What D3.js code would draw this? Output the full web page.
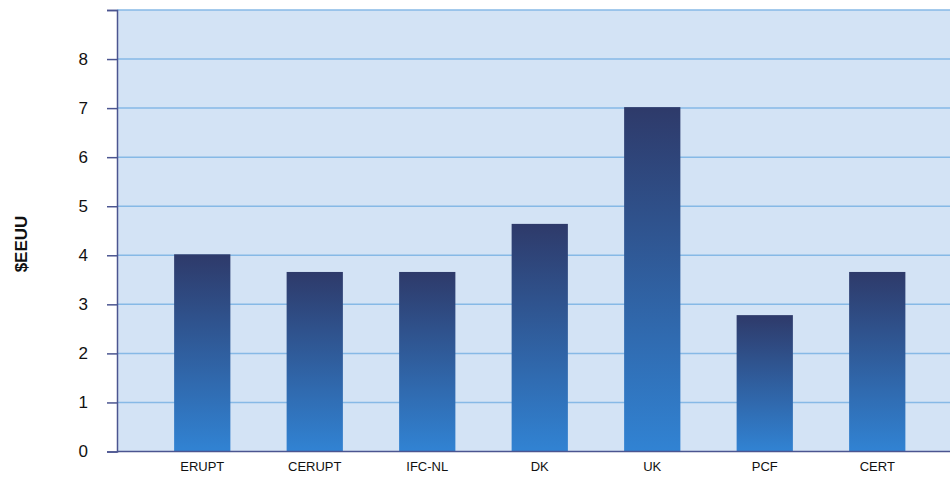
<!DOCTYPE html>
<html lang="es">
<head>
<meta charset="utf-8" />
<script src="https://d3js.org/d3.v7.min.js"></script>
<style>
  body { margin: 0; background: #fff; }
  svg text { font-family: "Liberation Sans", Arial, Helvetica, sans-serif; }
</style>
</head>
<body>
<div id="chart"></div>
<script>
const categories = ['ERUPT', 'CERUPT', 'IFC-NL', 'DK', 'UK', 'PCF', 'CERT'];
const values = [4.02, 3.66, 3.66, 4.64, 7.02, 2.78, 3.66];
const yTicks = [0, 1, 2, 3, 4, 5, 6, 7, 8];
const yLabel = '$EEUU';

const width = 950;
const height = 477;
const plotLeft = 117;
const plotTop = 10;
const plotBottom = 451.5;

const svg = d3.select('#chart')
  .append('svg')
  .attr('width', width)
  .attr('height', height);

const grad = svg.append('defs')
  .append('linearGradient')
  .attr('id', 'barGrad')
  .attr('x1', 0).attr('y1', 0)
  .attr('x2', 0).attr('y2', 1);
grad.append('stop').attr('offset', '0%').attr('stop-color', '#2e3a6a');
grad.append('stop').attr('offset', '100%').attr('stop-color', '#3183d3');

const x = d3.scaleBand()
  .domain(categories)
  .range([146, 933.5])
  .paddingInner(0.5)
  .paddingOuter(0.25);

const y = d3.scaleLinear()
  .domain([0, 9])
  .range([plotBottom, plotTop]);

// plot background
svg.append('rect')
  .attr('x', plotLeft)
  .attr('y', plotTop)
  .attr('width', width - plotLeft)
  .attr('height', plotBottom - plotTop)
  .attr('fill', '#d3e3f5');

// grid
svg.append('g')
  .selectAll('line')
  .data(yTicks.slice(1).concat([9]))
  .enter()
  .append('line')
  .attr('x1', plotLeft)
  .attr('x2', width)
  .attr('y1', d => y(d))
  .attr('y2', d => y(d))
  .attr('stroke', '#86b9e6')
  .attr('stroke-width', 1.5);

// bars
svg.append('g')
  .selectAll('rect')
  .data(values)
  .enter()
  .append('rect')
  .attr('x', (d, i) => x(categories[i]))
  .attr('width', x.bandwidth())
  .attr('y', d => y(d))
  .attr('height', d => y(0) - y(d))
  .attr('fill', 'url(#barGrad)');

// y axis
const yAxis = svg.append('g')
  .attr('transform', `translate(${plotLeft}, 0)`)
  .call(d3.axisLeft(y).tickValues(yTicks.concat([9])).tickSize(10).tickPadding(19).tickFormat(d => d === 9 ? '' : d));
yAxis.select('.domain').attr('stroke', '#4b5590').attr('stroke-width', 1.5);
yAxis.selectAll('line').attr('stroke', '#4b5590').attr('stroke-width', 1.5);
yAxis.selectAll('text').attr('fill', '#111').style('font-size', '17px');

// x axis
const xAxis = svg.append('g')
  .attr('transform', `translate(0, ${plotBottom})`)
  .call(d3.axisBottom(x).tickSize(0).tickPadding(10));
xAxis.select('.domain').remove();
xAxis.append('line')
  .attr('x1', plotLeft)
  .attr('x2', width)
  .attr('stroke', '#4b5590')
  .attr('stroke-width', 1.5);
xAxis.selectAll('text').attr('fill', '#111').style('font-size', '13px');

svg.append('text')
  .attr('transform', 'translate(27, 244) rotate(-90)')
  .attr('text-anchor', 'middle')
  .style('font-size', '17px')
  .style('font-weight', 'bold')
  .attr('fill', '#111')
  .text(yLabel);
</script>
</body>
</html>
